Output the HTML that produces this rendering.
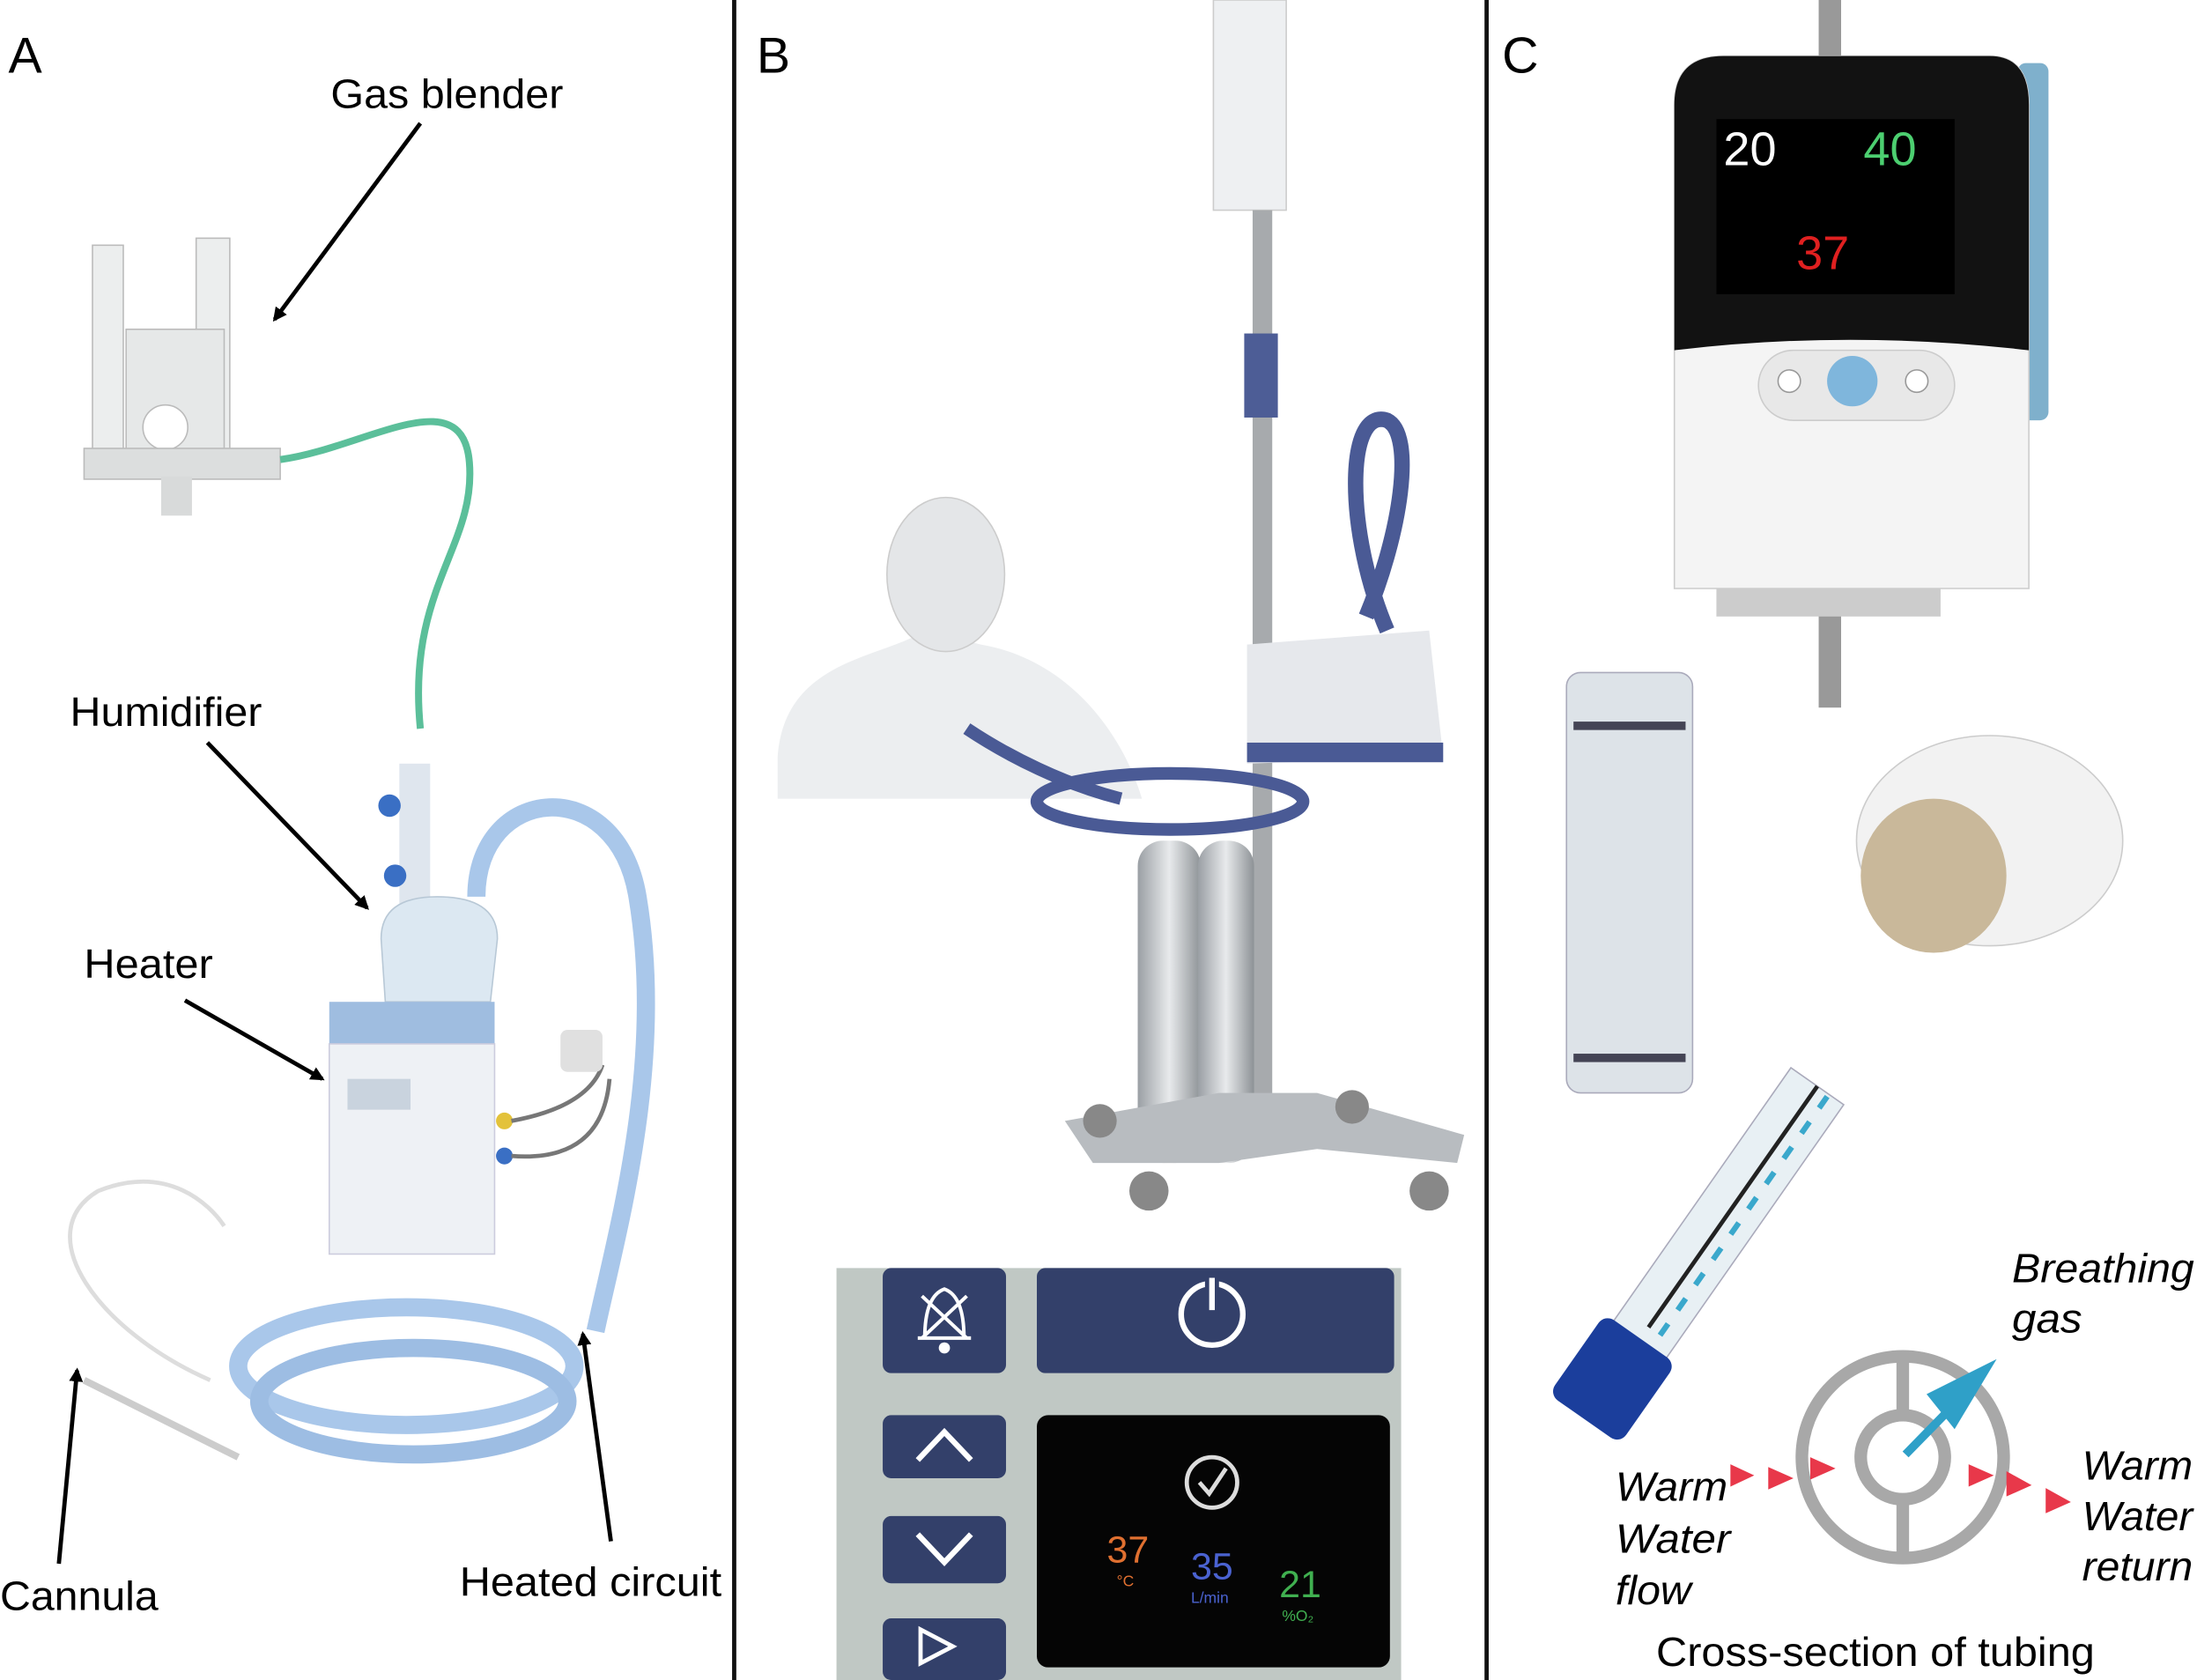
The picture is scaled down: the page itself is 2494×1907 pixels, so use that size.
<!DOCTYPE html>
<html><head><meta charset="utf-8"><style>
html,body{margin:0;padding:0;background:#fff;}
svg{display:block;}
text{font-family:"Liberation Sans",sans-serif;fill:#000;}
</style></head><body>
<svg width="2494" height="1907" viewBox="0 0 1568 1199" preserveAspectRatio="none" xmlns="http://www.w3.org/2000/svg">
<defs>
<marker id="ah" markerWidth="10" markerHeight="10" refX="8" refY="5" orient="auto" markerUnits="userSpaceOnUse"><path d="M0,0 L10,5 L0,10 z" fill="#000"/></marker>
<linearGradient id="cyl" x1="0" x2="1"><stop offset="0" stop-color="#9a9fa4"/><stop offset=".5" stop-color="#e8eaec"/><stop offset="1" stop-color="#8d9296"/></linearGradient>
</defs>
<rect width="1568" height="1199" fill="#fff"/>
<line x1="524" y1="0" x2="524" y2="1199" stroke="#111" stroke-width="3"/>
<line x1="1061" y1="0" x2="1061" y2="1199" stroke="#111" stroke-width="3"/>

<!-- Panel A -->
<text x="6" y="52" font-size="36">A</text>
<text x="236" y="77" font-size="29" textLength="166" lengthAdjust="spacingAndGlyphs">Gas blender</text>
<line x1="300" y1="88" x2="196" y2="228" stroke="#000" stroke-width="3" marker-end="url(#ah)"/>
<text x="50" y="518" font-size="29" textLength="137" lengthAdjust="spacingAndGlyphs">Humidifier</text>
<line x1="148" y1="530" x2="262" y2="648" stroke="#000" stroke-width="3" marker-end="url(#ah)"/>
<text x="60" y="698" font-size="29" textLength="92" lengthAdjust="spacingAndGlyphs">Heater</text>
<line x1="132" y1="714" x2="230" y2="770" stroke="#000" stroke-width="3" marker-end="url(#ah)"/>
<text x="0" y="1149" font-size="29" textLength="113" lengthAdjust="spacingAndGlyphs">Cannula</text>
<line x1="42" y1="1116" x2="55" y2="978" stroke="#000" stroke-width="3" marker-end="url(#ah)"/>
<text x="328" y="1139" font-size="29" textLength="187" lengthAdjust="spacingAndGlyphs">Heated circuit</text>
<line x1="436" y1="1100" x2="416" y2="952" stroke="#000" stroke-width="3" marker-end="url(#ah)"/>
<!-- blender -->
<rect x="66" y="175" width="22" height="160" fill="#eceeee" stroke="#bbb"/>
<rect x="140" y="170" width="24" height="165" fill="#eceeee" stroke="#bbb"/>
<rect x="90" y="235" width="70" height="100" fill="#e6e8e8" stroke="#bbb"/>
<circle cx="118" cy="305" r="16" fill="#fff" stroke="#bbb"/>
<rect x="60" y="320" width="140" height="22" fill="#dcdede" stroke="#bbb"/>
<rect x="115" y="340" width="22" height="28" fill="#d8dada"/>
<path d="M200,328 C260,320 330,270 335,330 C340,390 290,420 300,520" fill="none" stroke="#5bbf9a" stroke-width="5"/>
<!-- humidifier -->
<rect x="285" y="545" width="22" height="100" fill="#dfe6ee"/>
<circle cx="278" cy="575" r="8" fill="#3a6fc4"/><circle cx="282" cy="625" r="8" fill="#3a6fc4"/>
<path d="M272,670 Q272,640 312,640 Q355,640 355,670 L350,715 L275,715 z" fill="#dce8f2" stroke="#b8c8d6"/>
<!-- heater -->
<rect x="235" y="715" width="118" height="30" fill="#9fbde0"/>
<rect x="235" y="745" width="118" height="150" fill="#eef1f5" stroke="#ccd"/>
<rect x="248" y="770" width="45" height="22" fill="#c9d3de"/>
<circle cx="360" cy="800" r="6" fill="#e3c23a"/><circle cx="360" cy="825" r="6" fill="#3a6fc4"/>
<path d="M365,800 Q420,790 430,760 M365,825 Q430,830 435,770" fill="none" stroke="#777" stroke-width="3"/>
<rect x="400" y="735" width="30" height="30" rx="5" fill="#e0e0e0"/>
<!-- circuit -->
<path d="M340,640 C340,560 440,550 455,640 C475,760 440,880 425,950" fill="none" stroke="#a9c7ea" stroke-width="13"/>
<ellipse cx="290" cy="975" rx="120" ry="42" fill="none" stroke="#a9c7ea" stroke-width="13"/>
<ellipse cx="295" cy="1000" rx="110" ry="38" fill="none" stroke="#9dbde3" stroke-width="13"/>
<path d="M150,985 C70,950 20,880 70,850 C120,830 150,860 160,875" fill="none" stroke="#ddd" stroke-width="3"/>
<path d="M60,985 L170,1040" stroke="#ccc" stroke-width="5"/>

<!-- Panel B -->
<text x="540" y="52" font-size="36">B</text>
<rect x="866" y="0" width="52" height="150" fill="#eef0f2" stroke="#ccc"/>
<rect x="894" y="150" width="14" height="660" fill="#a7aaad"/>
<rect x="888" y="238" width="24" height="60" fill="#4d5d96"/>
<path d="M555,540 C560,470 630,470 660,450 L700,460 C760,470 800,520 815,570 L555,570 z" fill="#eceef0"/>
<ellipse cx="675" cy="410" rx="42" ry="55" fill="#e4e6e8" stroke="#ccc"/>
<path d="M990,450 C960,380 960,290 990,300 C1010,310 1000,380 975,440" fill="none" stroke="#4a5a95" stroke-width="11"/>
<path d="M890,460 L1020,450 L1030,540 L890,545 z" fill="#e6e8ec"/>
<rect x="890" y="530" width="140" height="14" fill="#4a5a95"/>
<ellipse cx="835" cy="572" rx="95" ry="20" fill="none" stroke="#4a5a95" stroke-width="9"/>
<path d="M690,520 C720,540 760,560 800,570" fill="none" stroke="#4a5a95" stroke-width="9"/>
<rect x="812" y="600" width="45" height="230" rx="18" fill="url(#cyl)"/>
<rect x="855" y="600" width="40" height="230" rx="18" fill="url(#cyl)"/>
<path d="M760,800 L870,780 L940,780 L1045,810 L1040,830 L940,820 L870,830 L780,830 z" fill="#b8bcc0"/>
<circle cx="785" cy="800" r="12" fill="#888"/><circle cx="820" cy="850" r="14" fill="#888"/><circle cx="965" cy="790" r="12" fill="#888"/><circle cx="1020" cy="850" r="14" fill="#888"/>
<!-- panel -->
<rect x="597" y="905" width="403" height="294" fill="#c0c8c4"/>
<rect x="630" y="905" width="88" height="75" rx="6" fill="#33406a"/>
<rect x="740" y="905" width="255" height="75" rx="6" fill="#33406a"/>
<circle cx="865" cy="938" r="22" fill="none" stroke="#fff" stroke-width="4"/>
<rect x="860" y="908" width="10" height="32" fill="#33406a"/><line x1="865" y1="912" x2="865" y2="935" stroke="#fff" stroke-width="4"/>
<path d="M655,955 L693,955 M660,955 Q660,925 674,920 Q688,925 688,955 M658,925 L690,955 M690,925 L658,955" fill="none" stroke="#fff" stroke-width="2.5"/>
<circle cx="674" cy="962" r="4" fill="#fff"/>
<rect x="630" y="1010" width="88" height="45" rx="6" fill="#33406a"/>
<path d="M655,1042 L674,1022 L693,1042" fill="none" stroke="#fff" stroke-width="4"/>
<rect x="630" y="1082" width="88" height="48" rx="6" fill="#33406a"/>
<path d="M655,1095 L674,1115 L693,1095" fill="none" stroke="#fff" stroke-width="4"/>
<rect x="630" y="1155" width="88" height="44" rx="6" fill="#33406a"/>
<path d="M657,1163 L680,1175 L657,1187 z" fill="none" stroke="#fff" stroke-width="3"/>
<rect x="740" y="1010" width="252" height="180" rx="8" fill="#050505"/>
<circle cx="865" cy="1058" r="18" fill="none" stroke="#ddd" stroke-width="3"/>
<path d="M856,1058 L863,1066 L875,1048" fill="none" stroke="#ddd" stroke-width="3"/>
<text x="790" y="1115" font-size="27" style="fill:#e07030">37</text>
<text x="797" y="1132" font-size="11" style="fill:#e07030">°C</text>
<text x="850" y="1127" font-size="27" style="fill:#4a62d0">35</text>
<text x="850" y="1144" font-size="11" style="fill:#4a62d0">L/min</text>
<text x="913" y="1140" font-size="27" style="fill:#40b050">21</text>
<text x="915" y="1157" font-size="11" style="fill:#40b050">%O₂</text>

<!-- Panel C -->
<text x="1072" y="52" font-size="36">C</text>
<rect x="1298" y="0" width="16" height="40" fill="#999"/>
<rect x="1298" y="425" width="16" height="80" fill="#999"/>
<rect x="1440" y="45" width="22" height="255" rx="6" fill="#7fb0cc"/>
<path d="M1195,75 Q1195,40 1230,40 L1420,40 Q1448,40 1448,75 L1448,420 L1195,420 z" fill="#f4f4f4" stroke="#ccc"/>
<path d="M1195,75 Q1195,40 1230,40 L1420,40 Q1448,40 1448,75 L1448,250 Q1320,235 1195,250 z" fill="#121212"/>
<rect x="1225" y="85" width="170" height="125" fill="#000"/>
<text x="1230" y="118" font-size="34" style="fill:#fff">20</text>
<text x="1330" y="118" font-size="34" style="fill:#4ccf70">40</text>
<text x="1282" y="192" font-size="34" style="fill:#e02020">37</text>
<rect x="1255" y="250" width="140" height="50" rx="25" fill="#e8e8e8" stroke="#ccc"/>
<circle cx="1322" cy="272" r="18" fill="#7fb6dc"/>
<circle cx="1277" cy="272" r="8" fill="#fff" stroke="#999"/><circle cx="1368" cy="272" r="8" fill="#fff" stroke="#999"/>
<rect x="1225" y="420" width="160" height="20" fill="#ccc"/>
<rect x="1118" y="480" width="90" height="300" rx="10" fill="#dde3e8" stroke="#aab"/>
<rect x="1123" y="515" width="80" height="6" fill="#445"/><rect x="1123" y="752" width="80" height="6" fill="#445"/>
<ellipse cx="1420" cy="600" rx="95" ry="75" fill="#f2f2f2" stroke="#ccc"/>
<ellipse cx="1380" cy="625" rx="52" ry="55" fill="#c9b89a"/>
<g transform="rotate(-55 1220 880)">
<rect x="1120" y="860" width="230" height="46" fill="#e8f0f4" stroke="#aab"/>
<line x1="1140" y1="883" x2="1350" y2="883" stroke="#222" stroke-width="3"/>
<line x1="1140" y1="893" x2="1350" y2="893" stroke="#3aa8cc" stroke-width="4" stroke-dasharray="10 12"/>
<rect x="1060" y="852" width="70" height="62" rx="8" fill="#1b3e9c"/>
</g>
<circle cx="1358" cy="1040" r="72" fill="none" stroke="#a8a8a8" stroke-width="9"/>
<circle cx="1358" cy="1040" r="30" fill="none" stroke="#a8a8a8" stroke-width="9"/>
<line x1="1358" y1="968" x2="1358" y2="1010" stroke="#a8a8a8" stroke-width="9"/>
<line x1="1358" y1="1070" x2="1358" y2="1112" stroke="#a8a8a8" stroke-width="9"/>
<line x1="1360" y1="1038" x2="1405" y2="992" stroke="#2fa0c8" stroke-width="6"/>
<path d="M1395,1020 L1425,970 L1375,995 z" fill="#2fa0c8"/>
<path d="M1235,1045 L1252,1053 L1235,1061 z M1262,1047 L1280,1055 L1262,1063 z M1292,1040 L1310,1048 L1292,1056 z M1405,1045 L1423,1053 L1405,1061 z M1432,1050 L1450,1060 L1432,1068 z M1460,1062 L1478,1072 L1460,1080 z" fill="#e8384a"/>
<text x="1436" y="915" font-size="29" font-style="italic" textLength="130" lengthAdjust="spacingAndGlyphs">Breathing</text>
<text x="1436" y="951" font-size="29" font-style="italic" textLength="50" lengthAdjust="spacingAndGlyphs">gas</text>
<text x="1153" y="1071" font-size="29" font-style="italic" textLength="80" lengthAdjust="spacingAndGlyphs">Warm</text>
<text x="1153" y="1108" font-size="29" font-style="italic" textLength="82" lengthAdjust="spacingAndGlyphs">Water</text>
<text x="1153" y="1145" font-size="29" font-style="italic" textLength="54" lengthAdjust="spacingAndGlyphs">flow</text>
<text x="1486" y="1056" font-size="29" font-style="italic" textLength="79" lengthAdjust="spacingAndGlyphs">Warm</text>
<text x="1486" y="1092" font-size="29" font-style="italic" textLength="79" lengthAdjust="spacingAndGlyphs">Water</text>
<text x="1486" y="1128" font-size="29" font-style="italic" textLength="79" lengthAdjust="spacingAndGlyphs">return</text>
<text x="1182" y="1189" font-size="29" textLength="313" lengthAdjust="spacingAndGlyphs">Cross-section of tubing</text>
</svg>
</body></html>
